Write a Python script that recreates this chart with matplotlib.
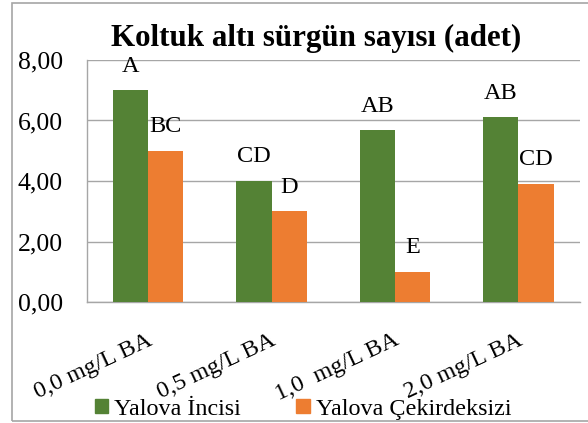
import numpy as np
import matplotlib.pyplot as plt
from matplotlib.patches import Rectangle, Patch

plt.rcParams['font.family'] = ['Liberation Serif', 'DejaVu Serif']

categories = ['0,0 mg/L BA', '0,5 mg/L BA', '1,0  mg/L BA', '2,0 mg/L BA']
incisi = [7.0, 4.0, 5.67, 6.1]
cekirdeksiz = [5.0, 3.0, 1.0, 3.9]
incisi_letters = ['A', 'CD', 'AB', 'AB']
cekirdeksiz_letters = ['BC', 'D', 'E', 'CD']
yticks = [0, 2, 4, 6, 8]
ytick_labels = ['0,00', '2,00', '4,00', '6,00', '8,00']

green = '#548235'
orange = '#ED7D31'
grid_col = '#a6a6a6'

W, H = 588, 423
fig = plt.figure(figsize=(W / 100, H / 100), dpi=100)
ax = fig.add_axes([86.5 / W, 1 - 302 / H, (580 - 86.5) / W, (302 - 60) / H])

# outer chart border
fig.patches.append(Rectangle((12 / W, 2 / H), 1.0, 1 - 5 / H, transform=fig.transFigure,
                             fill=False, edgecolor=grid_col, linewidth=1.2))

x = np.arange(len(categories))
bw = 0.286
b1 = ax.bar(x - bw / 2, incisi, bw, color=green, label='Yalova İncisi', zorder=3)
b2 = ax.bar(x + bw / 2, cekirdeksiz, bw, color=orange, label='Yalova Çekirdeksizi', zorder=3)

for bars, letters in ((b1, incisi_letters), (b2, cekirdeksiz_letters)):
    for rect, txt in zip(bars, letters):
        ax.annotate(txt, (rect.get_x() + rect.get_width() / 2, rect.get_height()),
                    xytext=(0, 17.3), textcoords='offset points',
                    ha='center', va='center', fontsize=17.5)

ax.set_xlim(-0.5, len(categories) - 0.5)
ax.set_ylim(0, 8)
ax.set_yticks(yticks)
ax.set_yticklabels(ytick_labels, fontsize=18.5)
ax.tick_params(axis='y', length=0, pad=17)
ax.set_xticks(x)
ax.set_xticklabels([])
ax.tick_params(axis='x', length=0)
ax.grid(axis='y', color=grid_col, linewidth=1, zorder=0)
ax.set_axisbelow(True)
for s in ['top', 'right']:
    ax.spines[s].set_visible(False)
for s in ['left', 'bottom']:
    ax.spines[s].set_color(grid_col)
    ax.spines[s].set_linewidth(1)

for i, lab in enumerate(categories):
    ax.annotate(lab, (i, 0), xycoords=('data', 'axes fraction'),
                xytext=(-1, -20), textcoords='offset points',
                rotation=25, rotation_mode='anchor', ha='right', va='top', fontsize=17.5)

fig.text(316 / W, 1 - 38 / H, 'Koltuk altı sürgün sayısı (adet)',
         ha='center', va='center', fontsize=22.3, fontweight='bold')

handles = [Patch(color=green, label='Yalova İncisi'),
           Patch(color=orange, label='Yalova Çekirdeksizi')]
fig.legend(handles=handles, loc='center', bbox_to_anchor=(303 / W, 1 - 409 / H),
           ncol=2, frameon=False, fontsize=17.4, handlelength=0.55, handleheight=0.55,
           handletextpad=0.25, columnspacing=2.3, borderpad=0, borderaxespad=0)

fig.savefig('out.png', dpi=100)
